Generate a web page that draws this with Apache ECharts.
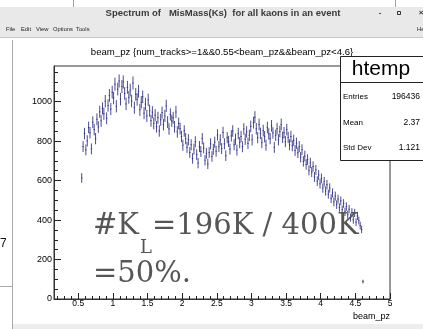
<!DOCTYPE html>
<html>
<head>
<meta charset="utf-8">
<script src="https://cdn.jsdelivr.net/npm/echarts@6/dist/echarts.min.js"></script>
<style>
  html, body { margin: 0; padding: 0; background: #fff; }
  #chart { width: 423px; height: 329px; }
</style>
</head>
<body>
<div id="chart"></div>
<script>
// Histogram of beam_pz: bin centres start at binStart and step by binWidth
const binStart = 0.55;
const binWidth = 0.02;
const counts = [
  613,
  772, 838, 755, 801, 869,
  842, 760, 895, 858, 812,
  910, 871, 948, 902, 965,
  938, 1002, 915, 980, 1031,
  962, 1047, 1018, 1088, 976,
  1063, 1104, 1012, 1076, 1099,
  1041, 988, 1072, 1021, 1058,
  1003, 1094, 969, 1037, 1011,
  1052, 958, 996, 1024, 941,
  987, 927, 1008, 954, 903,
  946, 889, 931, 872, 918,
  851, 908, 944, 883, 927,
  978, 896, 861, 935, 902,
  918, 872, 947, 846, 889,
  863, 823, 779, 851, 812,
  768, 806, 742, 781, 712,
  759, 796, 731, 688, 772,
  747, 812, 765, 703, 738,
  684, 741, 786, 722, 758,
  794, 748, 831, 772, 806,
  762, 843, 786, 726, 817,
  798, 759, 826, 851, 781,
  809, 754, 838, 792, 823,
  771, 861, 809, 846, 788,
  829, 874, 806, 893, 921,
  862, 817, 884, 839, 792,
  853, 822, 779, 868, 836,
  812, 877, 841, 768, 829,
  863, 806, 848, 884, 819,
  842, 797, 858, 818, 781,
  823, 776, 804, 752, 789,
  741, 772, 718, 756, 697,
  724, 681, 706, 652, 689,
  643, 671, 618, 654, 597,
  628, 583, 611, 562, 594,
  547, 579, 531, 562, 508,
  537, 492, 521, 478, 506,
  463, 497, 452, 484, 441,
  468, 427, 455, 412, 439,
  401, 436, 389, 421, 397,
  372, 352, 88
];

// Axis ticks
const xRange = [0.15, 5.0];
const xMajorTicks = [0.5, 1, 1.5, 2, 2.5, 3, 3.5, 4, 4.5, 5];
const xMinorTicks = [0.2, 0.3, 0.4, 0.6, 0.7, 0.8, 0.9, 1.1, 1.2, 1.3, 1.4,
  1.6, 1.7, 1.8, 1.9, 2.1, 2.2, 2.3, 2.4, 2.6, 2.7, 2.8, 2.9, 3.1, 3.2, 3.3, 3.4,
  3.6, 3.7, 3.8, 3.9, 4.1, 4.2, 4.3, 4.4, 4.6, 4.7, 4.8, 4.9];
const yRange = [0, 1180];
const yMajorTicks = [0, 200, 400, 600, 800, 1000];
const yMinorTicks = [50, 100, 150, 250, 300, 350, 450, 500, 550, 650, 700, 750,
  850, 900, 950, 1050, 1100, 1150];

// Texts
const windowTitle = 'Spectrum of   MisMass(Ks)  for all kaons in an event';
const menuItems = ['File', 'Edit', 'View', 'Options', 'Tools'];
const plotTitle = 'beam_pz {num_tracks>=1&&0.55<beam_pz&&beam_pz<4.6}';
const xAxisTitle = 'beam_pz';
const statsTitle = 'htemp';
const statNames = ['Entries', 'Mean', 'Std Dev'];
const statValues = ['196436', '2.37', '1.121'];

const points = counts.map((v, i) => [binStart + i * binWidth, v, Math.sqrt(v)]);

const SANS = '"Liberation Sans", Arial, Helvetica, sans-serif';
const SERIF = '"DejaVu Serif", serif';
const MARK = '#2c2c80';

function txt(x, y, text, font, fill, align, valign, z) {
  return {
    type: 'text', x: x, y: y, z: z || 10,
    style: {
      text: text, font: font, fill: fill,
      align: align || 'left', textAlign: align || 'left',
      verticalAlign: valign || 'middle', textVerticalAlign: valign || 'middle'
    }
  };
}
function hline(x1, x2, y, stroke, z) {
  return { type: 'line', z: z || 10, shape: { x1: x1, y1: y, x2: x2, y2: y }, style: { stroke: stroke, lineWidth: 1 } };
}
function vline(x, y1, y2, stroke, z) {
  return { type: 'line', z: z || 10, shape: { x1: x, y1: y1, x2: x, y2: y2 }, style: { stroke: stroke, lineWidth: 1 } };
}

const menuX = [6, 21, 36, 53, 76];
const statY = [97, 123, 147.5];

const graphics = [
  // window chrome
  { type: 'rect', z: 1, shape: { x: 0, y: 7, width: 423, height: 30 }, style: { fill: '#e9e9e9' } },
  vline(73.5, 0, 7, '#a0a0a0', 2),
  vline(395.5, 0, 7, '#a0a0a0', 2),
  hline(0, 423, 37.5, '#c6c6c6', 2),
  txt(223, 13.5, windowTitle, 'bold 9.5px ' + SANS, '#3a3a3a', 'center'),
  txt(380, 13, '-', 'bold 8px ' + SANS, '#333', 'center'),
  { type: 'rect', z: 10, shape: { x: 397.5, y: 11.5, width: 3, height: 3 }, style: { fill: 'none', stroke: '#333', lineWidth: 1 } },
  txt(421, 13, '×', 'bold 8px ' + SANS, '#333', 'center'),
  ...menuItems.map((m, i) => txt(menuX[i], 29.5, m, '5.8px ' + SANS, '#222', 'left')),
  txt(417, 29.5, 'He', '5.8px ' + SANS, '#222', 'left'),
  // neighbouring pad edge on the left
  vline(12.5, 40, 329, '#a8a8a8', 2),
  hline(0, 12, 286.5, '#a8a8a8', 2),
  txt(0, 244, '7', '12px ' + SANS, '#111', 'left'),
  { type: 'rect', z: 1, shape: { x: 13, y: 324, width: 410, height: 5 }, style: { fill: '#ededed' } },
  // histogram title and axis title
  txt(222, 52, plotTitle, '9.6px ' + SANS, '#000', 'center'),
  txt(390, 317, xAxisTitle, '9px ' + SANS, '#000', 'right'),
  // statistics box
  { type: 'rect', z: 20, shape: { x: 340.5, y: 56.5, width: 90, height: 104 }, style: { fill: '#fff', stroke: '#222', lineWidth: 1 } },
  hline(340.5, 423, 82.5, '#222', 21),
  txt(381, 69.5, statsTitle, '21px ' + SANS, '#000', 'center', 'middle', 22),
  ...statNames.map((s, i) => txt(343, statY[i], s, '8px ' + SANS, '#000', 'left', 'middle', 22)),
  ...statValues.map((s, i) => txt(420, statY[i], s, '8.5px ' + SANS, '#000', 'right', 'middle', 22)),
  // annotation
  txt(93, 226, '#K', '29px ' + SERIF, '#565656', 'left', 'middle', 30),
  txt(140, 248, 'L', '18px ' + SERIF, '#565656', 'left', 'middle', 30),
  txt(152, 226, '=196K / 400K', '29px ' + SERIF, '#565656', 'left', 'middle', 30),
  txt(93, 274, '=50%.', '29px ' + SERIF, '#565656', 'left', 'middle', 30)
];

const chart = echarts.init(document.getElementById('chart'), null, { renderer: 'canvas' });
chart.setOption({
  animation: false,
  backgroundColor: '#fff',
  grid: {
    left: 54, top: 66, width: 336, height: 233,
    show: true, borderColor: '#333', borderWidth: 1, backgroundColor: 'transparent'
  },
  xAxis: [
    {
      type: 'value', min: xRange[0], max: xRange[1], position: 'bottom',
      axisLine: { show: true, lineStyle: { color: '#333', width: 1 } },
      axisTick: { show: true, inside: true, length: 6, customValues: xMajorTicks, lineStyle: { color: '#222' } },
      axisLabel: { show: true, customValues: xMajorTicks, margin: 0, fontSize: 8.5, fontFamily: SANS, color: '#000',
        formatter: v => String(v) },
      splitLine: { show: false }
    },
    {
      type: 'value', min: xRange[0], max: xRange[1], position: 'bottom',
      axisLine: { show: false },
      axisTick: { show: true, inside: true, length: 3, customValues: xMinorTicks, lineStyle: { color: '#222' } },
      axisLabel: { show: false },
      splitLine: { show: false }
    }
  ],
  yAxis: [
    {
      type: 'value', min: yRange[0], max: yRange[1], position: 'left',
      axisLine: { show: true, lineStyle: { color: '#333', width: 1 } },
      axisTick: { show: true, inside: true, length: 7, customValues: yMajorTicks, lineStyle: { color: '#222' } },
      axisLabel: { show: true, customValues: yMajorTicks, margin: 2, fontSize: 9, fontFamily: SANS, color: '#000',
        formatter: v => String(v) },
      splitLine: { show: false }
    },
    {
      type: 'value', min: yRange[0], max: yRange[1], position: 'left',
      axisLine: { show: false },
      axisTick: { show: true, inside: true, length: 4, customValues: yMinorTicks, lineStyle: { color: '#222' } },
      axisLabel: { show: false },
      splitLine: { show: false }
    }
  ],
  series: [{
    type: 'custom',
    xAxisIndex: 0, yAxisIndex: 0,
    clip: true,
    data: points,
    renderItem: function (params, api) {
      const x = api.value(0), y = api.value(1), e = api.value(2);
      const lo = api.coord([x, y - e]);
      const hi = api.coord([x, y + e]);
      const l = api.coord([x - binWidth / 2, y]);
      const r = api.coord([x + binWidth / 2, y]);
      const st = { stroke: MARK, lineWidth: 1, opacity: 0.85 };
      return {
        type: 'group',
        children: [
          { type: 'line', shape: { x1: lo[0], y1: lo[1], x2: hi[0], y2: hi[1] }, style: st },
          { type: 'line', shape: { x1: l[0], y1: l[1], x2: r[0], y2: r[1] }, style: st }
        ]
      };
    }
  }],
  graphic: { elements: graphics }
});
</script>
</body>
</html>
